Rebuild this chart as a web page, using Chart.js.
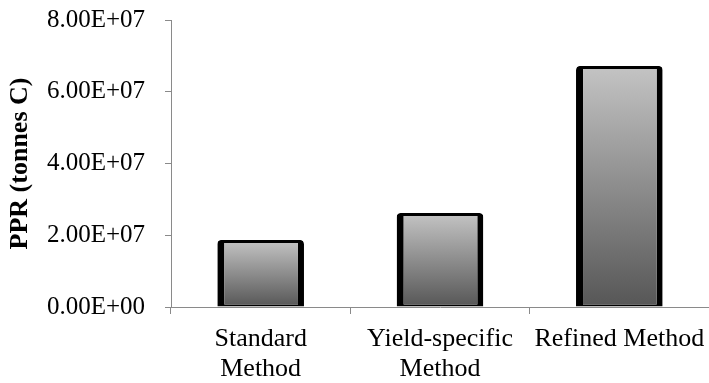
<!DOCTYPE html>
<html>
<head>
<meta charset="utf-8">
<script src="https://cdn.jsdelivr.net/npm/chart.js@4/dist/chart.umd.min.js"></script>
<style>
  html, body { margin: 0; padding: 0; background: #ffffff; }
  #wrap { width: 709px; height: 383px; position: relative; }
</style>
</head>
<body>
<div id="wrap"><canvas id="c"></canvas></div>
<script>
const categories = [['Standard', 'Method'], ['Yield-specific', 'Method'], 'Refined Method'];
const pprValues = [1.87e7, 2.62e7, 6.72e7];
const yTickValues = [0, 2e7, 4e7, 6e7, 8e7];
const yTickLabels = ['0.00E+00', '2.00E+07', '4.00E+07', '6.00E+07', '8.00E+07'];
const yTitle = 'PPR (tonnes C)';

const axisColor = '#8a8a8a';
const serif = '"Liberation Serif", "Times New Roman", serif';

function barGradient(context) {
  const chart = context.chart;
  const area = chart.chartArea;
  if (!area || context.raw === undefined) return '#999999';
  const y = chart.scales.y;
  const top = y.getPixelForValue(context.raw);
  const bottom = y.getPixelForValue(0);
  const g = chart.ctx.createLinearGradient(0, top, 0, bottom);
  g.addColorStop(0, '#c4c4c4');
  g.addColorStop(1, '#565656');
  return g;
}

new Chart(document.getElementById('c'), {
  type: 'bar',
  data: {
    labels: categories,
    datasets: [{
      data: pprValues,
      backgroundColor: barGradient,
      borderColor: '#000000',
      borderWidth: { left: 7, right: 6, top: 3, bottom: 2 },
      borderSkipped: false,
      borderRadius: { topLeft: 4, topRight: 4, bottomLeft: 0, bottomRight: 0 },
      categoryPercentage: 1.0,
      barPercentage: 0.483
    }]
  },
  options: {
    responsive: true,
    maintainAspectRatio: false,
    animation: false,
    layout: { padding: { top: 0, right: -2, left: 0, bottom: 0 } },
    plugins: {
      legend: { display: false },
      tooltip: { enabled: false }
    },
    scales: {
      x: {
        grid: {
          display: true,
          drawOnChartArea: false,
          drawTicks: true,
          tickLength: 7,
          color: axisColor,
          offset: true
        },
        border: { display: true, color: axisColor, width: 1 },
        ticks: {
          color: '#000000',
          font: { family: serif, size: 26, lineHeight: 1.15 },
          padding: 10,
          maxRotation: 0,
          autoSkip: false
        },
        afterFit: function (scale) {
          scale.height = 76;
          scale.paddingLeft = 0;
          scale.paddingRight = 0;
        }
      },
      y: {
        min: 0,
        max: 8e7,
        afterBuildTicks: function (scale) {
          scale.ticks = yTickValues.map(v => ({ value: v }));
        },
        grid: {
          display: true,
          drawOnChartArea: false,
          drawTicks: true,
          tickLength: 6,
          color: axisColor
        },
        border: { display: true, color: axisColor, width: 1 },
        ticks: {
          color: '#000000',
          font: { family: serif, size: 25 },
          padding: 20,
          callback: function (value) {
            const i = yTickValues.indexOf(value);
            return i >= 0 ? yTickLabels[i] : '';
          }
        },
        title: {
          display: true,
          text: yTitle,
          color: '#000000',
          font: { family: serif, size: 26, weight: 'bold' },
          padding: { top: 5, bottom: 0 }
        },
        afterFit: function (scale) {
          scale.width = 171;
          scale.paddingTop = 20;
          scale.paddingBottom = 0;
        }
      }
    }
  }
});
</script>
</body>
</html>
